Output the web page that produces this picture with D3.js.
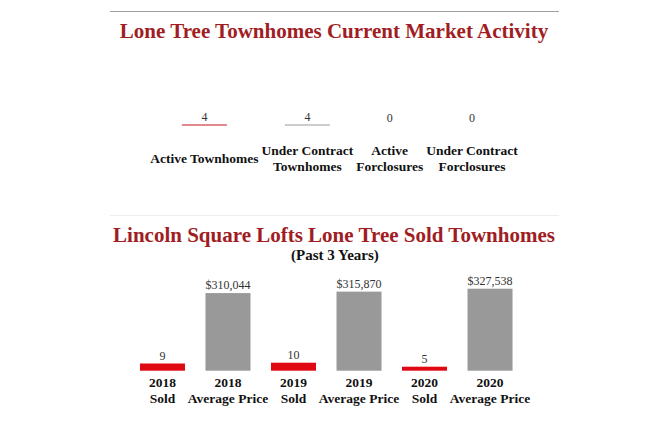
<!DOCTYPE html>
<html><head><meta charset="utf-8">
<script src="https://cdn.jsdelivr.net/npm/d3@7"></script>
<style>
html,body{margin:0;padding:0;background:#fff;}
svg{display:block;}
text{font-family:"Liberation Serif","Times New Roman",serif;}
</style></head>
<body>
<svg id="c" width="666" height="436"></svg>
<script>
// Chart 1: current market activity
const title1 = "Lone Tree Townhomes Current Market Activity";
const activityLabels = [["Active Townhomes"], ["Under Contract", "Townhomes"], ["Active", "Forclosures"], ["Under Contract", "Forclosures"]];
const activityValues = [4, 4, 0, 0];
const activityColors = ["#c8141c", "#999999", "#999999", "#999999"];

// Chart 2: sold townhomes
const title2 = "Lincoln Square Lofts Lone Tree Sold Townhomes";
const subtitle2 = "(Past 3 Years)";
const soldCategories = [["2018", "Sold"], ["2018", "Average Price"], ["2019", "Sold"], ["2019", "Average Price"], ["2020", "Sold"], ["2020", "Average Price"]];
const soldKinds = ["sold", "price", "sold", "price", "sold", "price"];
const soldValues = [9, 310044, 10, 315870, 5, 327538];
const soldLabels = ["9", "$310,044", "10", "$315,870", "5", "$327,538"];

const svg = d3.select("#c");
const cx = 334;

// separator top
svg.append("line").attr("x1", 110).attr("x2", 559).attr("y1", 11.5).attr("y2", 11.5)
  .attr("stroke", "#a0a0a0").attr("stroke-width", 1);

svg.append("text").attr("x", cx).attr("y", 38).attr("text-anchor", "middle")
  .attr("font-size", 21).attr("font-weight", "bold").attr("fill", "#a11d24").text(title1);

// layout chart 1 columns by label width (inline-block like)
const g1 = svg.append("g");
const widths = activityLabels.map(lines => {
  let m = 0;
  lines.forEach(l => {
    const t = g1.append("text").attr("font-size", 13.5).attr("font-weight", "bold").text(l);
    m = Math.max(m, t.node().getComputedTextLength());
    t.remove();
  });
  return m;
});
const gap = 3;
const total = d3.sum(widths) + gap * (widths.length - 1);
let acc = cx - total / 2;
const centers = widths.map(w => { const c = acc + w / 2; acc += w + gap; return c; });
const xAct = d3.scaleOrdinal().domain(d3.range(activityValues.length)).range(centers);
const yAct = d3.scaleLinear().domain([0, 4]).range([125.5, 124.5]);
const barW1 = 45;

activityValues.forEach((v, i) => {
  if (v > 0) {
    g1.append("rect").attr("x", xAct(i) - barW1 / 2).attr("width", barW1)
      .attr("y", yAct(v)).attr("height", yAct(0) - yAct(v)).attr("fill", activityColors[i]);
  }
  g1.append("text").attr("x", xAct(i)).attr("y", yAct(v) - 4).attr("text-anchor", "middle")
    .attr("font-size", 12).attr("fill", "#333").text(v);
  const lines = activityLabels[i];
  const base = lines.length === 1 ? 163 : 155;
  lines.forEach((l, j) => {
    g1.append("text").attr("x", xAct(i)).attr("y", base + j * 16).attr("text-anchor", "middle")
      .attr("font-size", 13.5).attr("font-weight", "bold").attr("fill", "#111").text(l);
  });
});

// separator 2
svg.append("line").attr("x1", 110).attr("x2", 559).attr("y1", 215.5).attr("y2", 215.5)
  .attr("stroke", "#eeeeee").attr("stroke-width", 1);

svg.append("text").attr("x", cx).attr("y", 242).attr("text-anchor", "middle")
  .attr("font-size", 21).attr("font-weight", "bold").attr("fill", "#a11d24").text(title2);
svg.append("text").attr("x", cx + 1).attr("y", 260).attr("text-anchor", "middle")
  .attr("font-size", 15).attr("font-weight", "bold").attr("fill", "#111").text(subtitle2);

const g2 = svg.append("g");
const xS = d3.scaleBand().domain(d3.range(soldValues.length)).range([129.75, 522.75])
  .paddingInner(0.313).paddingOuter(0.156);
const base2 = 370.7;
const ySold = d3.scaleLinear().domain([0, 10]).range([base2, base2 - 8]);
const yPrice = d3.scaleLinear().domain([0, 327538]).range([base2, base2 - 82]);

soldValues.forEach((v, i) => {
  const y = soldKinds[i] === "sold" ? ySold : yPrice;
  g2.append("rect").attr("x", xS(i)).attr("width", xS.bandwidth())
    .attr("y", y(v)).attr("height", y(0) - y(v))
    .attr("fill", soldKinds[i] === "sold" ? "#e00812" : "#999999");
  g2.append("text").attr("x", xS(i) + xS.bandwidth() / 2).attr("y", y(v) - 4)
    .attr("text-anchor", "middle").attr("font-size", 12).attr("fill", "#333").text(soldLabels[i]);
  soldCategories[i].forEach((l, j) => {
    g2.append("text").attr("x", xS(i) + xS.bandwidth() / 2).attr("y", 387 + j * 16)
      .attr("text-anchor", "middle").attr("font-size", 13.5).attr("font-weight", "bold")
      .attr("fill", "#111").text(l);
  });
});
</script>
</body></html>
